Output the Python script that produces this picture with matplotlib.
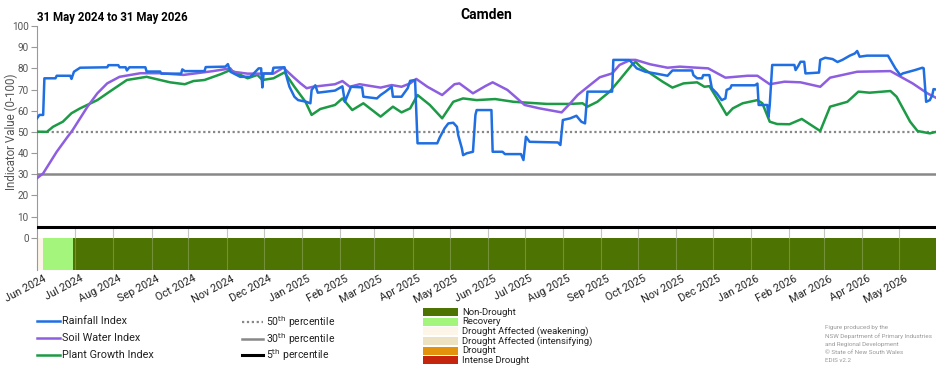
import pandas as pd
import matplotlib
matplotlib.use('Agg')
import matplotlib.pyplot as plt
import matplotlib.dates as mdates
import matplotlib.transforms as mtransforms
from matplotlib.lines import Line2D
from matplotlib.patches import Rectangle

plt.rcParams['font.family'] = ['Roboto', 'DejaVu Sans']

# 数据：从 2024-05-31 起算的天数 与 指标值
start = pd.Timestamp('2024-05-31')

rain_days = [0, 2, 5, 6, 15, 16, 27, 28, 30, 35, 57, 58, 66, 67, 72, 73, 75, 88, 89, 100,
             101, 117, 118, 120, 136, 137, 153, 155, 157, 165, 173, 175, 180, 182, 183, 184,
             191, 192, 201, 203, 205, 209, 212, 218, 222, 223, 226, 228, 242, 248, 250, 255,
             264, 265, 276, 279, 283, 288, 289, 296, 299, 301, 303, 307, 309, 325, 327, 331,
             334, 338, 341, 342, 345, 346, 349, 354, 356, 357, 369, 370, 378, 380, 393, 395,
             397, 400, 423, 425, 427, 433, 438, 442, 445, 447, 467, 468, 481, 487, 494, 502,
             512, 516, 532, 533, 536, 540, 541, 546, 548, 552, 556, 559, 560, 563, 564, 568,
             583, 585, 586, 593, 594, 595, 597, 615, 616, 618, 620, 623, 624, 635, 636, 640,
             646, 650, 654, 660, 664, 666, 668, 674, 691, 697, 701, 703, 713, 719, 720, 722,
             725, 727, 728, 730]
rain_vals = [56.4, 58, 58, 75.3, 75.3, 76.5, 76.5, 75, 78.4, 80.3, 80.5, 81.5, 81.5, 80.5, 80.5, 79, 80.5, 80.5, 78.5, 78.5,
             77.5, 77.5, 79.5, 78.7, 78.7, 80.6, 80.8, 82, 78.4, 76, 76, 77, 80, 80, 71, 77.6,
             77.6, 80.3, 80.5, 75.3, 71.3, 66.6, 65, 64.3, 63.5, 69.8, 72, 68.5, 69.5, 71.5, 64.2, 71.3,
             71, 66.6, 65.8, 67.4, 69, 71.3, 66.6, 66.6, 69, 70.6, 74.1, 74.5, 44.6, 44.6, 47.3, 51.7,
             54, 54.3, 52.4, 48.5, 42.2, 39, 39.9, 40.6, 58, 60.3, 60.3, 40.6, 40.6, 39.5, 39.5, 36.7,
             47.7, 45.3, 45, 43.8, 55.6, 56.4, 57.6, 54.8, 54, 69, 69, 84, 84, 80, 78.4, 77.6,
             76.5, 79, 79, 76.8, 75.3, 75.3, 76.8, 76.8, 70.6, 68.2, 65, 65.8, 69.8, 70.6, 72, 72,
             72, 72.8, 62.7, 62.7, 57, 62.7, 81.6, 81.6, 79.2, 81, 83.1, 83.1, 77.6, 78, 84, 85,
             84.4, 83, 84, 86, 87, 88.2, 85.5, 86, 86, 80, 76.8, 77.6, 79.2, 80.3, 80, 64.2,
             65, 67.4, 70.2, 70]

soil_days = [0, 5, 16, 24, 29, 35, 41, 49, 57, 67, 84, 100, 119, 143, 157, 159, 171, 192, 200,
             208, 214, 219, 224, 242, 248, 254, 262, 279, 288, 296, 303, 308, 317, 329, 339, 343,
             354, 364, 370, 382, 396, 408, 426, 433, 439, 449, 457, 467, 473, 482, 486, 498, 512,
             522, 536, 545, 559, 577, 585, 595, 607, 620, 636, 644, 666, 693, 711, 723, 730]
soil_vals = [28.1, 30.4, 40.6, 47, 50.9, 56.4, 61.9, 68.2, 72.9, 76, 77.7, 77.7, 76.9, 78.7, 80, 78.4, 77.5, 77.5, 80.3,
             76, 72.9, 70.6, 71.3, 72.5, 74, 71.3, 72.5, 70.9, 72.1, 71.3, 72.9, 75, 71.3, 67.4, 72.5, 72.9,
             68.2, 71.6, 73.4, 69.8, 62.7, 61.1, 59.2, 63.5, 67.4, 72.1, 75.8, 77.6, 81.6, 84, 84, 81.9, 80.3,
             80.8, 80.3, 80, 75.6, 76.5, 76.5, 72.5, 73.7, 73.4, 71.3, 75.6, 78.4, 78.7, 72.9, 68.2, 66.1]

plant_days = [0, 8, 13, 21, 28, 35, 49, 59, 73, 89, 108, 120, 127, 136, 149, 157, 171, 179, 183,
              192, 201, 209, 218, 223, 230, 242, 248, 256, 265, 279, 289, 296, 303, 309, 319, 329,
              338, 346, 357, 372, 387, 414, 433, 443, 447, 455, 465, 473, 483, 486, 490, 508, 516,
              525, 536, 542, 546, 553, 560, 565, 573, 585, 589, 595, 601, 611, 621, 636, 644, 658,
              667, 676, 693, 698, 709, 715, 725, 730]
plant_vals = [50.1, 50, 52.4, 54.8, 58.8, 61.1, 65, 69, 74.5, 76, 73.4, 72.5, 74, 74.5, 77.2, 79.2, 75.3, 76.9, 74.5,
              75.3, 78.1, 71.3, 64.2, 58, 60.8, 62.7, 65.8, 60.3, 63.5, 57.2, 61.9, 59.2, 61.1, 67.4, 62.7, 56.4,
              64.2, 65.8, 65, 65.5, 64.2, 63.2, 63.2, 63.5, 61.9, 64.2, 69, 74.5, 81.6, 83.1, 80.8, 73.7, 70.9,
              72.9, 73.4, 71.3, 71.6, 65, 58, 61.1, 63.5, 65, 63.5, 54.8, 53.7, 53.6, 56.1, 50.4, 61.9, 64.2,
              69, 68.5, 69.3, 66.6, 54.8, 50.4, 49.3, 50]

# 干旱类别条带
band_start = ['2024-05-31', '2024-06-05', '2024-06-29']
band_end = ['2024-06-05', '2024-06-29', '2026-05-31']
band_cat = ['Drought Affected (weakening)', 'Recovery', 'Non-Drought']

cat_names = ['Non-Drought', 'Recovery', 'Drought Affected (weakening)',
             'Drought Affected (intensifying)', 'Drought', 'Intense Drought']
cat_colors = ['#4d7302', '#a4f57c', '#fcf5e8', '#ece2c2', '#e3920c', '#c4250c']
cat_color = dict(zip(cat_names, cat_colors))

percentiles = [50, 30, 5]

to_dates = lambda d: start + pd.to_timedelta(d, unit='D')

fig = plt.figure(figsize=(9.52, 3.70), dpi=100)
ax = fig.add_axes([37 / 952, 1 - 269.5 / 370, 899 / 952, 243.5 / 370])

# 类别条带
for s, e, c in zip(band_start, band_end, band_cat):
    s0 = mdates.date2num(pd.Timestamp(s))
    e0 = mdates.date2num(pd.Timestamp(e))
    ax.bar(s0, 15, width=e0 - s0, bottom=-15, align='edge', color=cat_color[c], linewidth=0, zorder=1)

# 月份竖线
months = pd.date_range('2024-06-01', '2026-05-01', freq='MS')
ax.vlines(months[1:], 0, 5, color='#c4c4c4', linewidth=0.8, zorder=2)
ax.vlines(months[1:], -15, 0, color='white', linewidth=0.8, alpha=0.22, zorder=2)

# 百分位线
ax.axhline(percentiles[0], color='#888888', linewidth=1.6, linestyle=(0, (1, 1.2)), zorder=3)
ax.axhline(percentiles[1], color='#888888', linewidth=1.8, zorder=3)
ax.axhline(percentiles[2], color='black', linewidth=2.2, zorder=3)

rain_c, soil_c, plant_c = '#1f6fe2', '#8d5ee0', '#1c9a45'
ax.plot(to_dates(plant_days), plant_vals, color=plant_c, linewidth=1.8, zorder=4)
ax.plot(to_dates(soil_days), soil_vals, color=soil_c, linewidth=1.8, zorder=5)
ax.plot(to_dates(rain_days), rain_vals, color=rain_c, linewidth=1.8, zorder=6)

ax.set_xlim(start, pd.Timestamp('2026-05-31'))
ax.set_ylim(-15, 100)
ax.set_yticks(range(0, 101, 10))
ax.tick_params(axis='y', labelsize=7.2, labelcolor='#555555', color='#999999', length=4, pad=2)
ax.set_xticks(months)
ax.set_xticklabels([m.strftime('%b %Y') for m in months], rotation=28, ha='right',
                   rotation_mode='anchor', fontsize=7.8, color='#222222')
ax.tick_params(axis='x', length=0, pad=3)
shift = mtransforms.ScaledTranslation(5 / 100, 0, fig.dpi_scale_trans)
for lab in ax.get_xticklabels():
    lab.set_transform(lab.get_transform() + shift)
for sp in ['top', 'right', 'bottom']:
    ax.spines[sp].set_visible(False)
ax.spines['left'].set_color('#999999')
ax.spines['left'].set_linewidth(0.8)

fig.text(11 / 952, 1 - 132 / 370, 'Indicator Value (0-100)', rotation=90, ha='center', va='center',
         fontsize=8.3, color='#555555')
fig.text(486.5 / 952, 1 - 15 / 370, 'Camden', ha='center', va='center', fontsize=10, fontweight='bold')
fig.text(37 / 952, 1 - 18 / 370, '31 May 2024 to 31 May 2026', ha='left', va='center', fontsize=8.3,
         fontweight='bold')


# 图例：指标
def fx(px):
    return px / 952


def fy(py):
    return 1 - py / 370


for name, col, py in zip(['Rainfall Index', 'Soil Water Index', 'Plant Growth Index'],
                         [rain_c, soil_c, plant_c], [321, 338, 355]):
    fig.add_artist(Line2D([fx(37), fx(60)], [fy(py), fy(py)], color=col, linewidth=1.8))
    fig.text(fx(62), fy(py), name, ha='left', va='center', fontsize=7.8, color='#222222')

# 图例：百分位
pct_styles = [dict(color='#888888', linewidth=1.6, linestyle=(0, (1, 1.2))),
              dict(color='#888888', linewidth=1.8),
              dict(color='black', linewidth=2.2)]
for p, st, py in zip(percentiles, pct_styles, [322, 339, 355]):
    fig.add_artist(Line2D([fx(242), fx(263)], [fy(py), fy(py)], **st))
    fig.text(fx(266), fy(py), f'{p}$^{{\\mathrm{{th}}}}$ percentile', ha='left', va='center',
             fontsize=7.5, color='#222222')

# 图例：类别
for i, (name, col) in enumerate(zip(cat_names, cat_colors)):
    cy = 312.3 + i * 9.55
    fig.add_artist(Rectangle((fx(423), fy(cy + 4)), fx(458) - fx(423), 8 / 370,
                             facecolor=col, edgecolor='none', transform=fig.transFigure))
    fig.text(fx(462), fy(cy), name, ha='left', va='center', fontsize=6.8, color='#222222')

credits = ['Figure produced by the', 'NSW Department of Primary Industries',
           'and Regional Development', '\u00a9 State of New South Wales', 'EDIS v2.2']
for i, line in enumerate(credits):
    fig.text(fx(825), fy(327.5 + i * 8.3), line, ha='left', va='center', fontsize=4.5, color='#999999')

plt.savefig('out.png', dpi=100)
